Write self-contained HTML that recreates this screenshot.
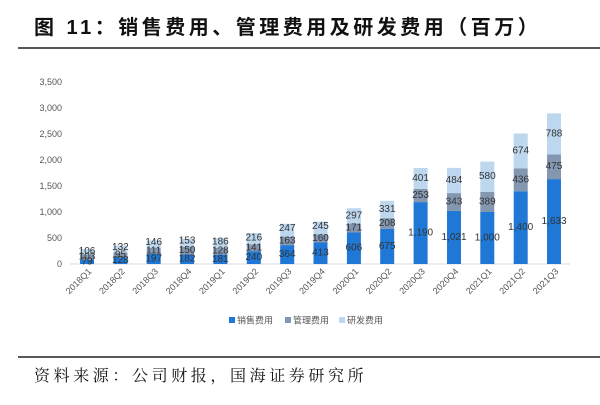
<!DOCTYPE html>
<html><head><meta charset="utf-8"><style>
html,body{margin:0;padding:0;background:#fff;width:600px;height:405px;overflow:hidden}
svg{display:block}
</style></head><body>
<svg width="600" height="405" xmlns="http://www.w3.org/2000/svg" font-family="'Liberation Sans','Noto Sans CJK SC',sans-serif">
<text x="34" y="34" font-size="20" font-weight="bold" fill="#111" letter-spacing="3.5" font-family="'Liberation Sans','Noto Sans CJK SC',sans-serif">图 11：销售费用、管理费用及研发费用（百万）</text>
<line x1="18" y1="48" x2="600" y2="48" stroke="#222" stroke-width="1.5"/>
<g font-size="9" fill="#555" text-anchor="end">
<text x="62" y="267">0</text><text x="62" y="241">500</text><text x="62" y="215">1,000</text><text x="62" y="189">1,500</text><text x="62" y="163">2,000</text><text x="62" y="137">2,500</text><text x="62" y="111">3,000</text><text x="62" y="85">3,500</text>
</g>
<line x1="70" y1="264" x2="570" y2="264" stroke="#d9d9d9" stroke-width="1"/>
<g>
<rect x="80" y="259.9" width="14" height="4.1" fill="#1f78d6"/><rect x="80" y="254.5" width="14" height="5.4" fill="#8497b0"/><rect x="80" y="249" width="14" height="5.5" fill="#bdd7ee"/>
<rect x="113.4" y="257.3" width="14" height="6.7" fill="#1f78d6"/><rect x="113.4" y="252.4" width="14" height="4.9" fill="#8497b0"/><rect x="113.4" y="245.5" width="14" height="6.9" fill="#bdd7ee"/>
<rect x="146.7" y="253.8" width="14" height="10.2" fill="#1f78d6"/><rect x="146.7" y="248" width="14" height="5.8" fill="#8497b0"/><rect x="146.7" y="240.4" width="14" height="7.6" fill="#bdd7ee"/>
<rect x="180.1" y="254.5" width="14" height="9.5" fill="#1f78d6"/><rect x="180.1" y="246.7" width="14" height="7.8" fill="#8497b0"/><rect x="180.1" y="238.7" width="14" height="8" fill="#bdd7ee"/>
<rect x="213.4" y="254.6" width="14" height="9.4" fill="#1f78d6"/><rect x="213.4" y="247.9" width="14" height="6.7" fill="#8497b0"/><rect x="213.4" y="238.2" width="14" height="9.7" fill="#bdd7ee"/>
<rect x="246.8" y="251.5" width="14" height="12.5" fill="#1f78d6"/><rect x="246.8" y="244.2" width="14" height="7.3" fill="#8497b0"/><rect x="246.8" y="233" width="14" height="11.2" fill="#bdd7ee"/>
<rect x="280.2" y="245.1" width="14" height="18.9" fill="#1f78d6"/><rect x="280.2" y="236.6" width="14" height="8.5" fill="#8497b0"/><rect x="280.2" y="223.8" width="14" height="12.8" fill="#bdd7ee"/>
<rect x="313.5" y="242.5" width="14" height="21.5" fill="#1f78d6"/><rect x="313.5" y="234.2" width="14" height="8.3" fill="#8497b0"/><rect x="313.5" y="221.5" width="14" height="12.7" fill="#bdd7ee"/>
<rect x="346.9" y="232.5" width="14" height="31.5" fill="#1f78d6"/><rect x="346.9" y="223.6" width="14" height="8.9" fill="#8497b0"/><rect x="346.9" y="208.2" width="14" height="15.4" fill="#bdd7ee"/>
<rect x="380.2" y="228.9" width="14" height="35.1" fill="#1f78d6"/><rect x="380.2" y="218.1" width="14" height="10.8" fill="#8497b0"/><rect x="380.2" y="200.9" width="14" height="17.2" fill="#bdd7ee"/>
<rect x="413.6" y="202.1" width="14" height="61.9" fill="#1f78d6"/><rect x="413.6" y="188.9" width="14" height="13.2" fill="#8497b0"/><rect x="413.6" y="168" width="14" height="20.9" fill="#bdd7ee"/>
<rect x="447" y="210.9" width="14" height="53.1" fill="#1f78d6"/><rect x="447" y="193.1" width="14" height="17.8" fill="#8497b0"/><rect x="447" y="167.9" width="14" height="25.2" fill="#bdd7ee"/>
<rect x="480.3" y="212" width="14" height="52" fill="#1f78d6"/><rect x="480.3" y="191.8" width="14" height="20.2" fill="#8497b0"/><rect x="480.3" y="161.6" width="14" height="30.2" fill="#bdd7ee"/>
<rect x="513.7" y="191.2" width="14" height="72.8" fill="#1f78d6"/><rect x="513.7" y="168.5" width="14" height="22.7" fill="#8497b0"/><rect x="513.7" y="133.5" width="14" height="35" fill="#bdd7ee"/>
<rect x="547" y="179.1" width="14" height="84.9" fill="#1f78d6"/><rect x="547" y="154.4" width="14" height="24.7" fill="#8497b0"/><rect x="547" y="113.4" width="14" height="41" fill="#bdd7ee"/>
</g>
<g font-size="10" fill="#333" text-anchor="middle" dominant-baseline="central">
<text x="87" y="262">79</text><text x="87" y="257.2">103</text><text x="87" y="251.7">106</text>
<text x="120.4" y="260.6">128</text><text x="120.4" y="254.9">95</text><text x="120.4" y="247.5">132</text>
<text x="153.7" y="258.9">197</text><text x="153.7" y="250.9">111</text><text x="153.7" y="242.5">146</text>
<text x="187.1" y="259.2">182</text><text x="187.1" y="250.6">150</text><text x="187.1" y="241">153</text>
<text x="220.4" y="259.3">181</text><text x="220.4" y="251.2">128</text><text x="220.4" y="242">186</text>
<text x="253.8" y="257.7">240</text><text x="253.8" y="247.8">141</text><text x="253.8" y="238">216</text>
<text x="287.2" y="254.5">364</text><text x="287.2" y="240.8">163</text><text x="287.2" y="228.5">247</text>
<text x="320.5" y="253.2">413</text><text x="320.5" y="238.3">160</text><text x="320.5" y="226.5">245</text>
<text x="353.9" y="248.2">606</text><text x="353.9" y="228">171</text><text x="353.9" y="215.9">297</text>
<text x="387.2" y="246.4">675</text><text x="387.2" y="223.5">208</text><text x="387.2" y="209.5">331</text>
<text x="420.6" y="233">1,190</text><text x="420.6" y="195.5">253</text><text x="420.6" y="178.4">401</text>
<text x="454" y="237.4">1,021</text><text x="454" y="202">343</text><text x="454" y="180.5">484</text>
<text x="487.3" y="238">1,000</text><text x="487.3" y="201.9">389</text><text x="487.3" y="176.7">580</text>
<text x="520.7" y="227.6">1,400</text><text x="520.7" y="179.8">436</text><text x="520.7" y="151">674</text>
<text x="554" y="221.5">1,633</text><text x="554" y="166.7">475</text><text x="554" y="133.9">788</text>
</g>
<g font-size="9" fill="#555" text-anchor="end">
<text transform="translate(92,272) rotate(-45)">2018Q1</text>
<text transform="translate(125.4,272) rotate(-45)">2018Q2</text>
<text transform="translate(158.7,272) rotate(-45)">2018Q3</text>
<text transform="translate(192.1,272) rotate(-45)">2018Q4</text>
<text transform="translate(225.4,272) rotate(-45)">2019Q1</text>
<text transform="translate(258.8,272) rotate(-45)">2019Q2</text>
<text transform="translate(292.2,272) rotate(-45)">2019Q3</text>
<text transform="translate(325.5,272) rotate(-45)">2019Q4</text>
<text transform="translate(358.9,272) rotate(-45)">2020Q1</text>
<text transform="translate(392.2,272) rotate(-45)">2020Q2</text>
<text transform="translate(425.6,272) rotate(-45)">2020Q3</text>
<text transform="translate(459,272) rotate(-45)">2020Q4</text>
<text transform="translate(492.3,272) rotate(-45)">2021Q1</text>
<text transform="translate(525.7,272) rotate(-45)">2021Q2</text>
<text transform="translate(559,272) rotate(-45)">2021Q3</text>
</g>
<g font-size="9" fill="#555">
<rect x="229" y="317" width="6" height="6" fill="#1f78d6"/><text x="237" y="323.5">销售费用</text>
<rect x="285" y="317" width="6" height="6" fill="#8497b0"/><text x="293" y="323.5">管理费用</text>
<rect x="339" y="317" width="6" height="6" fill="#bdd7ee"/><text x="347" y="323.5">研发费用</text>
</g>
<line x1="18" y1="357" x2="600" y2="357" stroke="#222" stroke-width="1.5"/>
<text x="34" y="381" font-size="16" fill="#111" letter-spacing="3.6" font-family="'Liberation Serif','Noto Serif CJK SC',serif">资料来源：公司财报，国海证券研究所</text>
</svg>
</body></html>
